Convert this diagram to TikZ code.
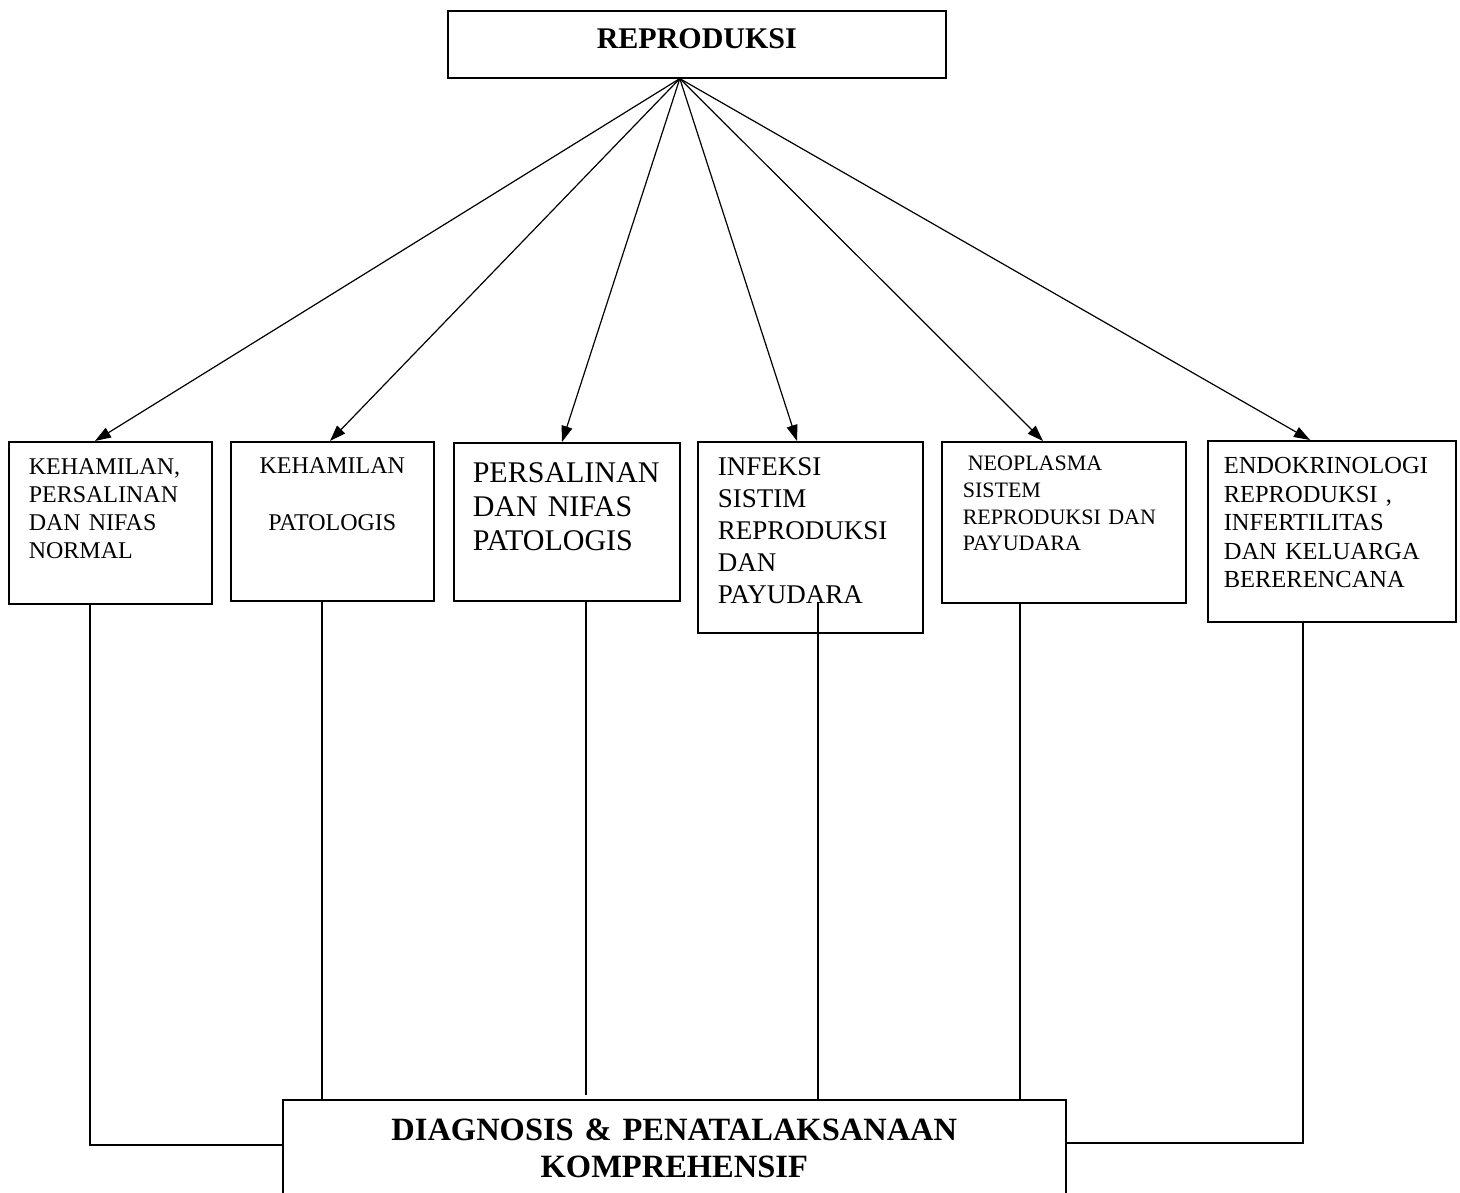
\documentclass[tikz,border=0pt]{standalone}
\usepackage{fontspec}
\setmainfont{Liberation Serif}
\usetikzlibrary{arrows.meta, calc}

\begin{document}
\begin{tikzpicture}[
    x=1pt, y=-1pt,
    box/.style={draw, rectangle, line width=1.6pt, anchor=north west,
      inner ysep=0pt, align=left},
    arrow/.style={line width=1.2pt, -{Triangle[length=16pt, width=11pt]}},
    link/.style={line width=1.4pt}
]
\useasboundingbox (0,0) rectangle (1460,1193);

\node[box, align=center, inner xsep=0pt, text width=498pt, text height=38pt, text depth=29pt,
  font={\fontsize{30}{34}\selectfont\bfseries}] (reproduksi) at (447,10) {REPRODUKSI};

\node[box, inner xsep=20pt, text width=163pt, text height=33pt, text depth=129pt,
  font={\fontsize{24}{28}\selectfont}] (kehamilan_normal) at (8,441)
  {KEHAMILAN,\\PERSALINAN\\DAN NIFAS\\NORMAL};
\node[box, align=center, inner xsep=0pt, text width=203pt, text height=32pt, text depth=127pt,
  font={\fontsize{24}{28.5}\selectfont}] (kehamilan_pat) at (230,441)
  {KEHAMILAN\\[28.5pt]PATOLOGIS};
\node[box, inner xsep=19pt, text width=188pt, text height=40pt, text depth=118pt,
  font={\fontsize{30}{34}\selectfont}] (persalinan_pat) at (453,442)
  {PERSALINAN\\DAN NIFAS\\PATOLOGIS};
\node[box, inner xsep=20pt, text width=185pt, text height=34pt, text depth=157pt,
  font={\fontsize{27}{32}\selectfont}] (infeksi) at (697,441)
  {INFEKSI\\SISTIM\\REPRODUKSI\\DAN\\PAYUDARA};
\node[box, inner xsep=21pt, text width=202pt, text height=29pt, text depth=132pt,
  font={\fontsize{22}{26.7}\selectfont}] (neoplasma) at (941,441)
  {\hspace*{5pt}NEOPLASMA\\SISTEM\\REPRODUKSI DAN\\PAYUDARA};
\node[box, inner xsep=16pt, text width=216pt, text height=33pt, text depth=148pt,
  font={\fontsize{24.5}{28.5}\selectfont}] (endokrin) at (1207,440)
  {ENDOKRINOLOGI\\REPRODUKSI ,\\INFERTILITAS\\DAN KELUARGA\\BERERENCANA};

\node[box, align=center, inner xsep=0pt, text width=783pt, text height=41pt, text depth=100pt,
  font={\fontsize{32.5}{37}\selectfont\bfseries}] (diagnosis) at (282,1099)
  {DIAGNOSIS \& PENATALAKSANAAN\\KOMPREHENSIF};

\coordinate (hub) at ($(reproduksi.south)+(-17,0)$);
\draw[arrow] (hub) -- ($(kehamilan_normal.north west)+(87,0)$);
\draw[arrow] (hub) -- ($(kehamilan_pat.north west)+(100,0)$);
\draw[arrow] (hub) -- ($(persalinan_pat.north west)+(109,0)$);
\draw[arrow] (hub) -- ($(infeksi.north west)+(100,0)$);
\draw[arrow] (hub) -- ($(neoplasma.north west)+(102,0)$);
\draw[arrow] (hub) -- ($(endokrin.north west)+(103,0)$);

\coordinate (kn_out) at ($(kehamilan_normal.south west)+(82,0)$);
\coordinate (kp_out) at ($(kehamilan_pat.south west)+(92,0)$);
\coordinate (pp_out) at ($(persalinan_pat.south west)+(133,0)$);
\coordinate (in_out) at ($(infeksi.south west)+(121,-32)$);
\coordinate (ne_out) at ($(neoplasma.south west)+(79,0)$);
\coordinate (en_out) at ($(endokrin.south west)+(96,0)$);

\draw[link] (kn_out) |- ($(diagnosis.north west)+(0,46)$);
\draw[link] (kp_out) -- (kp_out |- diagnosis.north);
\draw[link, shorten >=4pt] (pp_out) -- (pp_out |- diagnosis.north);
\draw[link] (in_out) -- (in_out |- diagnosis.north);
\draw[link] (ne_out) -- (ne_out |- diagnosis.north);
\draw[link] (en_out) |- ($(diagnosis.north east)+(0,44)$);
\end{tikzpicture}
\end{document}
